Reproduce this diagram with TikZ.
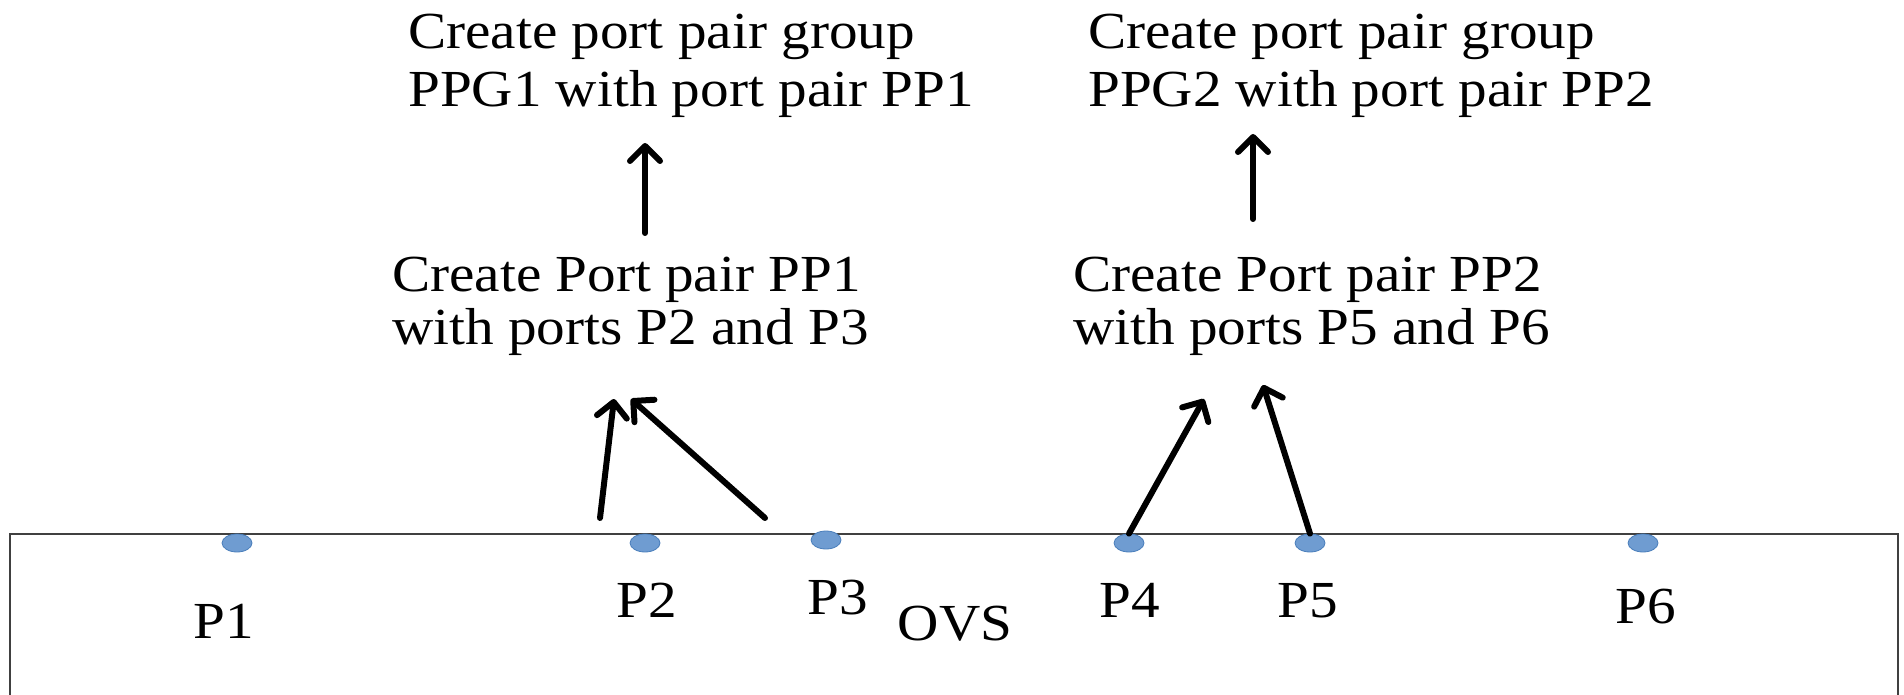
\documentclass[tikz,border=0pt]{standalone}
\usepackage{fontspec}
\setmainfont{Liberation Serif}[FakeStretch=1.1]
\usetikzlibrary{arrows.meta,shapes.geometric}
\definecolor{portfill}{HTML}{6F9CD1}
\definecolor{portedge}{HTML}{4A7EBB}
\definecolor{framegray}{HTML}{404040}
\begin{document}
\begin{tikzpicture}[x=1pt,y=-1pt,
  step text/.style={inner sep=0pt, align=left, anchor=base west},
  group font/.style={font=\fontsize{52}{58}\selectfont},
  pair font/.style={font=\fontsize{52}{53}\selectfont},
  port label/.style={font=\fontsize{52}{57}\selectfont, inner sep=0pt, anchor=base},
  port/.style={ellipse, minimum width=30pt, minimum height=18pt, inner sep=0pt,
               fill=portfill, draw=portedge, line width=0.8pt},
  flow/.style={line width=6pt, line cap=round,
               -{Straight Barb[length=15pt,width=30pt,line join=round,line cap=round]}},
  frame/.style={draw=framegray, line width=1.5pt}]
\useasboundingbox (0,0) rectangle (1904,695);

% OVS switch outline (open at the bottom edge)
\draw[frame] (10,695) -- (10,534) -- (1898,534) -- (1898,695);

% ports on the switch
\node[port] (p1) at (237,543) {};
\node[port] (p2) at (645,543) {};
\node[port] (p3) at (826,540) {};
\node[port] (p4) at (1129,543) {};
\node[port] (p5) at (1310,543) {};
\node[port] (p6) at (1643,543) {};

\node[port label] (l1) at (224,638) {P1};
\node[port label] (l2) at (647,617) {P2};
\node[port label] (l3) at (838,614) {P3};
\node[port label] (ovs) at (955,640) {OVS};
\node[port label] (l4) at (1130,617) {P4};
\node[port label] (l5) at (1308,617) {P5};
\node[port label] (l6) at (1646,623) {P6};

% steps (anchored at the baseline of the last line)
\node[step text, pair font] (pp1) at (392,344) {Create Port pair PP1\\with ports P2 and P3};
\node[step text, pair font] (pp2) at (1073,344) {Create Port pair PP2\\with ports P5 and P6};
\node[step text, group font] (ppg1) at (408,107) {Create port pair group\\PPG1 with port pair PP1};
\node[step text, group font] (ppg2) at (1088,107) {Create port pair group\\PPG2 with port pair PP2};

% arrow end points
\coordinate (a1s) at (600,518);
\coordinate (a1e) at (614,399);
\coordinate (a2s) at (765,518);
\coordinate (a2e) at (631,399);
\coordinate (b1e) at (1204,399);
\coordinate (b2e) at (1263,385);
\coordinate (u1s) at (645,233);
\coordinate (u1e) at (645,143);
\coordinate (u2s) at (1253,219);
\coordinate (u2e) at (1253,134);

\draw[flow] (a1s) -- (a1e);
\draw[flow] (a2s) -- (a2e);
\draw[flow] (p4.north) -- (b1e);
\draw[flow] (p5.north) -- (b2e);
\draw[flow] (u1s) -- (u1e);
\draw[flow] (u2s) -- (u2e);
\end{tikzpicture}
\end{document}
